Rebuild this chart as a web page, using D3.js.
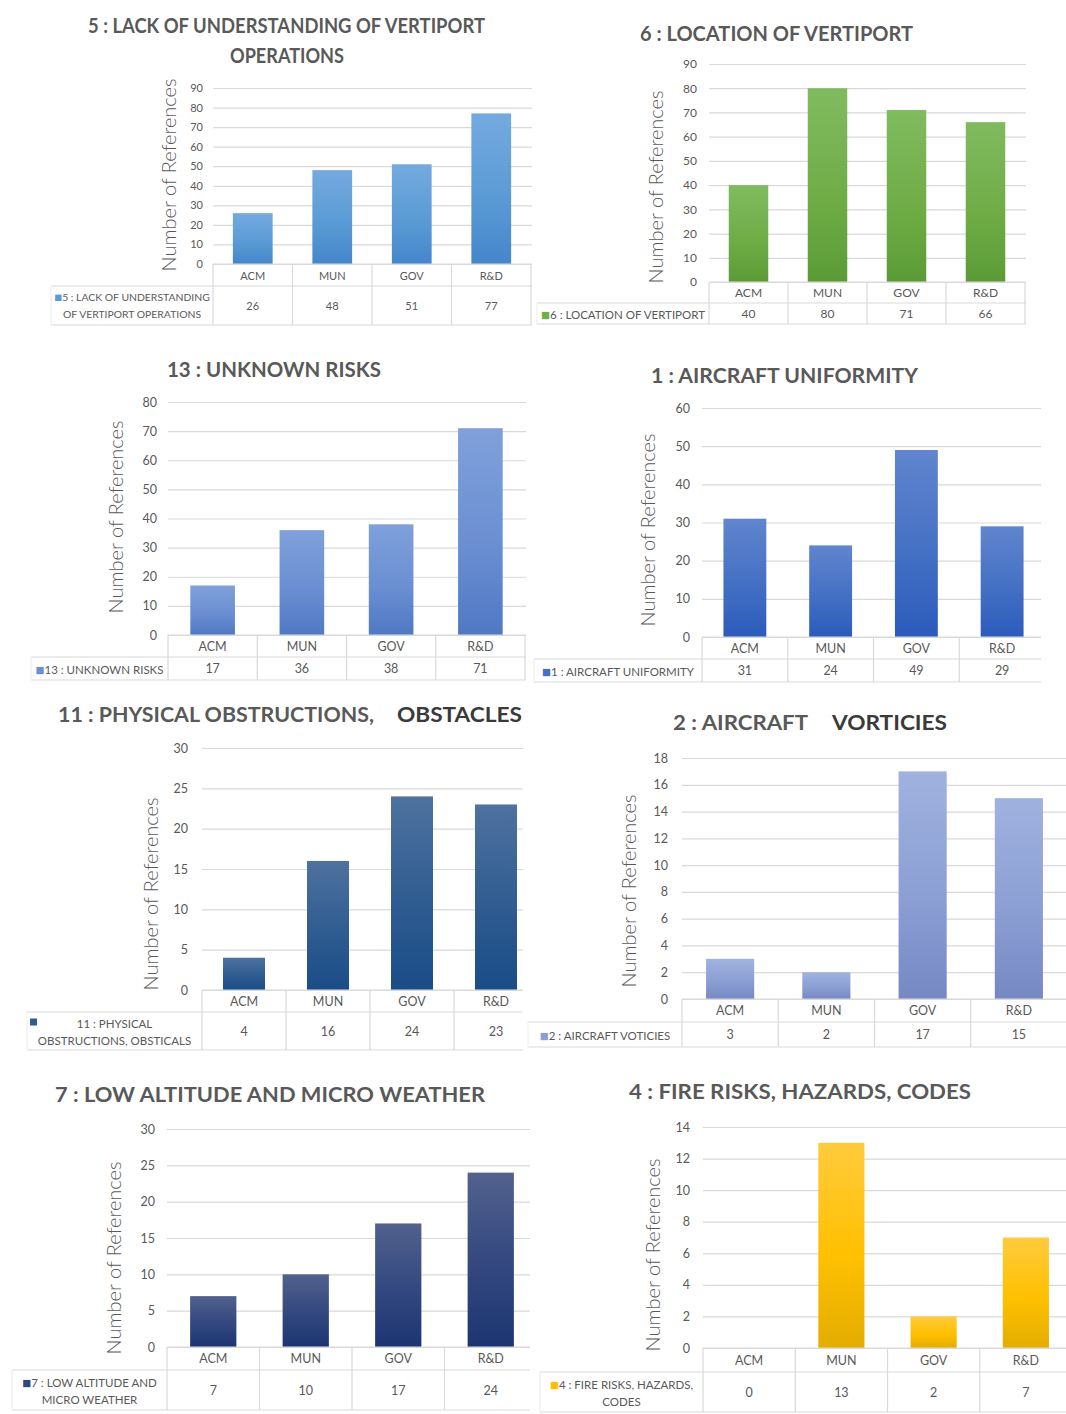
<!DOCTYPE html>
<html><head><meta charset="utf-8">
<script src="https://cdn.jsdelivr.net/npm/d3@7"></script>
<style>body{margin:0;background:#fff} svg{display:block}</style>
</head><body><svg id="c" width="1066" height="1414"></svg>
<script>
// ---------- DATA ----------
const categories = ["ACM", "MUN", "GOV", "R&D"];
const lackUnderstanding   = [26, 48, 51, 77];
const locationVertiport   = [40, 80, 71, 66];
const unknownRisks        = [17, 36, 38, 71];
const aircraftUniformity  = [31, 24, 49, 29];
const physicalObstructions= [4, 16, 24, 23];
const aircraftVorticies   = [3, 2, 17, 15];
const lowAltitudeWeather  = [7, 10, 17, 24];
const fireRisks           = [0, 13, 2, 7];
const seriesValues = [lackUnderstanding, locationVertiport, unknownRisks, aircraftUniformity,
                      physicalObstructions, aircraftVorticies, lowAltitudeWeather, fireRisks];
const chartTitles = [
  [["5 : LACK OF UNDERSTANDING OF VERTIPORT"], ["OPERATIONS"]],
  [["6 : LOCATION OF VERTIPORT"]],
  [["13 : UNKNOWN RISKS"]],
  [["1 : AIRCRAFT UNIFORMITY"]],
  [["11 : PHYSICAL OBSTRUCTIONS,", "OBSTACLES"]],
  [["2 : AIRCRAFT", "VORTICIES"]],
  [["7 : LOW ALTITUDE AND MICRO WEATHER"]],
  [["4 : FIRE RISKS, HAZARDS, CODES"]]
];
const legendLabels = [
  ["5 : LACK OF UNDERSTANDING", "OF VERTIPORT OPERATIONS"],
  ["6 : LOCATION OF VERTIPORT"],
  ["13 : UNKNOWN RISKS"],
  ["1 : AIRCRAFT UNIFORMITY"],
  ["11 : PHYSICAL", "OBSTRUCTIONS, OBSTICALS"],
  ["2 : AIRCRAFT VOTICIES"],
  ["7 : LOW ALTITUDE AND", "MICRO WEATHER"],
  ["4 : FIRE RISKS, HAZARDS,", "CODES"]
];
const yMaxima    = [90, 90, 80, 60, 30, 18, 30, 14];
const yTickSteps = [10, 10, 10, 10, 5, 2, 5, 2];
const axisTitle = "Number of References";

// ---------- LAYOUT / STYLE ----------
const layouts = [
 {x0:213,x1:531,clip:532,yTop:88,yBot:264,hdr:286,val:325,legL:51,tickX:203,ax:168,ay:175,fs:11,lfs:10.4,titles:[[88,24,397],[230,54,114]],grad:["#74aadf","#5b9bd5","#4486cb"]},
 {x0:709,x1:1025,clip:1026,yTop:64,yBot:282,hdr:303,val:324,legL:537,tickX:697,ax:655,ay:187,fs:12,lfs:11.5,titles:[[640,32,273]],grad:["#80bb5f","#70ad47","#5b9b35"]},
 {x0:168,x1:525,clip:526,yTop:402,yBot:635,hdr:657,val:680,legL:31,tickX:157,ax:115,ay:517,fs:12.5,lfs:11.5,titles:[[167,368,214]],grad:["#7fa0da","#6b8fd2","#4f79c4"]},
 {x0:702,x1:1045,clip:1041,yTop:408,yBot:637,hdr:659,val:682,legL:534,tickX:690,ax:647,ay:530,fs:12.5,lfs:11.5,titles:[[651,374,267]],grad:["#6185ce","#4470c4","#2b5bbb"]},
 {x0:202,x1:538,clip:523,yTop:748,yBot:990,hdr:1012,val:1050,legL:27,tickX:188,ax:150,ay:894,fs:12.5,lfs:11.5,markerApart:true,titles:[[58,713,316],[397,713,125]],grad:["#4f729f","#2f5c91","#1a4c86"]},
 {x0:682,x1:1067,clip:1066,yTop:758,yBot:999,hdr:1022,val:1047,legL:528,tickX:668,ax:628,ay:891,fs:12.5,lfs:11.5,titles:[[673,721,135],[832,721,115]],grad:["#9fb2df","#8b9fd4","#7588c3"]},
 {x0:167,x1:537,clip:530,yTop:1129,yBot:1347,hdr:1370,val:1410,legL:12,tickX:155,ax:113,ay:1258,fs:12.5,lfs:11.5,titles:[[55,1093,430]],grad:["#52618d","#32477f","#1c3571"]},
 {x0:703,x1:1072,clip:1066,yTop:1127,yBot:1348,hdr:1372,val:1412,legL:540,tickX:690,ax:652,ay:1255,fs:12.5,lfs:11.5,titles:[[629,1090,342]],grad:["#ffcb3d","#ffc000","#e3ad00"]}
];
const FONT = "Lato, 'Open Sans', sans-serif";
const TEXT = "#595959", DARK = "#3a3a3a", GRID = "#d9d9d9";

const svg = d3.select("#c");
const defs = svg.append("defs");

seriesValues.forEach((vals, i) => {
  const L = layouts[i];
  const g = svg.append("g").attr("font-family", FONT);

  const gr = defs.append("linearGradient").attr("id", "g" + i)
    .attr("x1", 0).attr("y1", 0).attr("x2", 0).attr("y2", 1);
  gr.append("stop").attr("offset", "0%").attr("stop-color", L.grad[0]);
  gr.append("stop").attr("offset", "55%").attr("stop-color", L.grad[1]);
  gr.append("stop").attr("offset", "100%").attr("stop-color", L.grad[2]);

  const y = d3.scaleLinear().domain([0, yMaxima[i]]).range([L.yBot, L.yTop]);
  const xBar = d3.scaleBand().domain(categories).range([L.x0, L.x1]).paddingInner(0.5).paddingOuter(0.25);
  const xCol = d3.scaleBand().domain(categories).range([L.x0, L.x1]).padding(0);

  // titles
  let k = 0;
  chartTitles[i].forEach(line => {
    line.forEach((seg, j) => {
      const b = L.titles[k++];
      g.append("text").attr("x", b[0]).attr("y", b[1])
        .attr("dominant-baseline", "central")
        .attr("font-size", 21).attr("font-weight", 700)
        .attr("fill", j > 0 ? DARK : TEXT)
        .attr("textLength", b[2]).attr("lengthAdjust", "spacingAndGlyphs")
        .text(seg);
    });
  });

  // y axis with gridlines
  const ticks = d3.range(0, yMaxima[i] + 1e-9, yTickSteps[i]);
  const axis = d3.axisLeft(y).tickValues(ticks)
    .tickSizeInner(-(L.clip - L.x0)).tickSizeOuter(0)
    .tickPadding(L.x0 - L.tickX);
  const ag = g.append("g").attr("transform", `translate(${L.x0},0)`).call(axis);
  ag.select(".domain").remove();
  ag.selectAll(".tick line").attr("stroke", GRID).attr("stroke-width", 1.2);
  ag.selectAll(".tick text").attr("fill", TEXT).attr("font-size", L.fs).attr("font-family", FONT);

  // axis title
  g.append("text").attr("transform", `translate(${L.ax},${L.ay}) rotate(-90)`)
    .attr("text-anchor", "middle").attr("dominant-baseline", "central")
    .attr("font-size", 19).attr("font-weight", 300).attr("fill", TEXT)
    .attr("textLength", 193).attr("lengthAdjust", "spacingAndGlyphs")
    .text(axisTitle);

  // bars
  g.selectAll("rect.bar").data(vals).enter().append("rect").attr("class", "bar")
    .attr("x", (d, j) => xBar(categories[j]))
    .attr("width", xBar.bandwidth())
    .attr("y", d => y(d))
    .attr("height", d => L.yBot - y(d))
    .attr("fill", `url(#g${i})`);

  // data table
  const tg = g.append("g").attr("stroke", GRID).attr("stroke-width", 1.2);
  tg.append("line").attr("x1", L.x0).attr("x2", L.clip).attr("y1", L.yBot).attr("y2", L.yBot);
  tg.append("line").attr("x1", L.legL).attr("x2", L.clip).attr("y1", L.hdr).attr("y2", L.hdr);
  tg.append("line").attr("x1", L.legL).attr("x2", L.clip).attr("y1", L.val).attr("y2", L.val);
  tg.append("line").attr("x1", L.legL).attr("x2", L.legL).attr("y1", L.hdr).attr("y2", L.val).attr("stroke", "#eeeeee");
  const bounds = categories.map(c => xCol(c)).concat([L.x1]).filter(x => x <= L.clip + 0.5);
  bounds.forEach(x => tg.append("line").attr("x1", x).attr("x2", x).attr("y1", L.yBot).attr("y2", L.val));

  categories.forEach((c, j) => {
    const cx = xCol(c) + xCol.bandwidth() / 2;
    g.append("text").attr("x", cx).attr("y", (L.yBot + L.hdr) / 2)
      .attr("text-anchor", "middle").attr("dominant-baseline", "central")
      .attr("font-size", L.fs).attr("fill", TEXT).text(c);
    g.append("text").attr("x", cx).attr("y", (L.hdr + L.val) / 2)
      .attr("text-anchor", "middle").attr("dominant-baseline", "central")
      .attr("font-size", L.fs).attr("fill", TEXT).text(vals[j]);
  });

  // legend cell
  const lines = legendLabels[i];
  const cx = (L.legL + L.x0) / 2, cy = (L.hdr + L.val) / 2;
  lines.forEach((ln, j) => {
    const yy = cy + (j - (lines.length - 1) / 2) * 17;
    const t = g.append("text").attr("x", cx).attr("y", yy)
      .attr("text-anchor", "middle").attr("dominant-baseline", "central")
      .attr("font-size", L.lfs).attr("fill", TEXT);
    if (j === 0 && !L.markerApart) {
      t.append("tspan").attr("fill", L.grad[1]).attr("font-family", "DejaVu Sans").attr("font-size", L.lfs - 2).text("■");
    }
    t.append("tspan").text(ln);
    if (j === 0 && L.markerApart) {
      g.append("rect").attr("x", L.legL + 3).attr("y", yy - 4).attr("width", 7).attr("height", 7).attr("fill", L.grad[1]);
    }
  });
});
</script>
</body></html>
